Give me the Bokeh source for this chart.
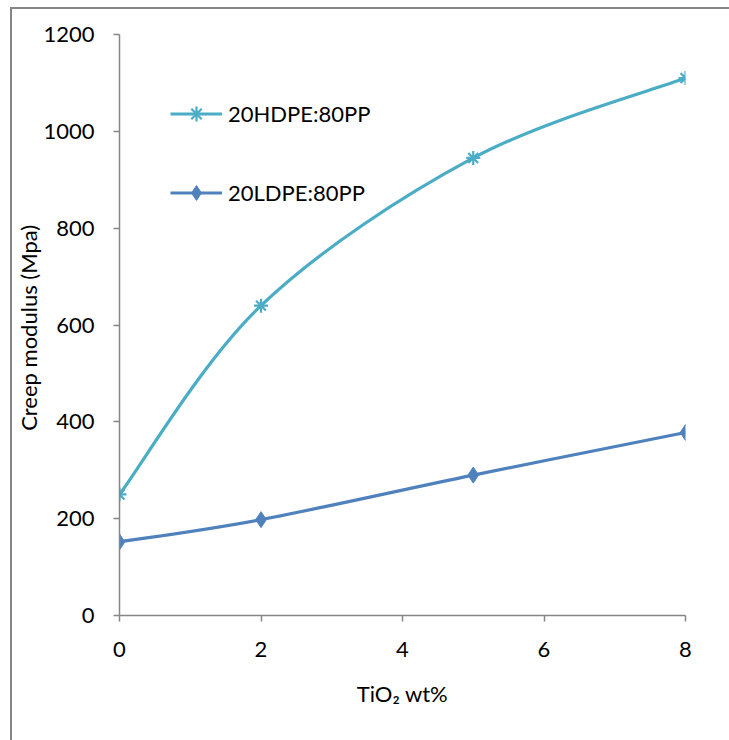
from bokeh.plotting import figure
from bokeh.models import Range1d, Legend, LegendItem, FixedTicker
from bokeh.embed import file_html
from bokeh.resources import INLINE
import numpy as np

# TiO2 loading (wt%) and creep modulus (MPa)
tio2 = [0, 2, 5, 8]
hdpe_pp = [250, 640, 945, 1110]
ldpe_pp = [152, 198, 290, 378]

x_ticks = [0, 2, 4, 6, 8]
y_ticks = [0, 200, 400, 600, 800, 1000, 1200]

HDPE_COLOR = "#4BACC6"
LDPE_COLOR = "#4F81BD"
AXIS_COLOR = "#868686"
FONT = "Lato"


def smooth_segments(xs, ys):
    """Cubic Bezier segments of a Catmull-Rom style smoothed line."""
    xs = np.asarray(xs, float)
    ys = np.asarray(ys, float)
    n = len(xs)
    seg = dict(x0=[], y0=[], x1=[], y1=[], cx0=[], cy0=[], cx1=[], cy1=[])
    for i in range(n - 1):
        pm = max(i - 1, 0)
        pp = min(i + 2, n - 1)
        seg["x0"].append(xs[i]); seg["y0"].append(ys[i])
        seg["x1"].append(xs[i + 1]); seg["y1"].append(ys[i + 1])
        seg["cx0"].append(xs[i] + (xs[i + 1] - xs[pm]) / 6)
        seg["cy0"].append(ys[i] + (ys[i + 1] - ys[pm]) / 6)
        seg["cx1"].append(xs[i + 1] - (xs[pp] - xs[i]) / 6)
        seg["cy1"].append(ys[i + 1] - (ys[pp] - ys[i]) / 6)
    return seg


p = figure(width=719, height=733, output_backend="svg", toolbar_location=None,
           x_range=Range1d(0, 8), y_range=Range1d(0, 1200),
           min_border_left=106, min_border_right=46,
           min_border_top=25, min_border_bottom=127)
# chart-area border (left and top edges are inside the window)
p.margin = (7, 0, 0, 10)
p.styles = {"border-left": "2px solid #868686", "border-top": "2px solid #868686"}
p.outline_line_color = None
p.grid.visible = False
p.background_fill_color = "white"
p.border_fill_color = "white"

for ax in (p.xaxis[0], p.yaxis[0]):
    ax.axis_line_color = AXIS_COLOR
    ax.axis_line_width = 1.5
    ax.major_tick_line_color = AXIS_COLOR
    ax.major_tick_line_width = 1.5
    ax.major_tick_out = 6
    ax.major_tick_in = 0
    ax.minor_tick_line_color = None
    ax.major_label_text_font = FONT
    ax.major_label_text_font_size = "22px"
    ax.major_label_text_color = "black"
    ax.axis_label_text_font = FONT
    ax.axis_label_text_font_size = "22px"
    ax.axis_label_text_font_style = "normal"
    ax.axis_label_text_color = "black"

p.xaxis.ticker = FixedTicker(ticks=x_ticks)
p.yaxis.ticker = FixedTicker(ticks=y_ticks)
p.xaxis.major_label_standoff = 20
p.yaxis.major_label_standoff = 19
p.xaxis.axis_label = "TiO\u2082 wt%"
p.yaxis.axis_label = "Creep modulus  (Mpa)"
p.xaxis.axis_label_standoff = 20
p.yaxis.axis_label_standoff = -2

# smoothed curves
curves = []
for ys, col in ((hdpe_pp, HDPE_COLOR), (ldpe_pp, LDPE_COLOR)):
    curves.append(p.bezier(source=smooth_segments(tio2, ys), x0="x0", y0="y0",
                           x1="x1", y1="y1", cx0="cx0", cy0="cy0",
                           cx1="cx1", cy1="cy1", line_color=col, line_width=3.2))

hm = p.scatter(tio2, hdpe_pp, marker="asterisk", size=14, line_color=HDPE_COLOR,
               line_width=2.2)
lm = p.scatter(tio2, ldpe_pp, marker="diamond", size=16,
               fill_color=LDPE_COLOR, line_color=LDPE_COLOR)

legend = Legend(items=[LegendItem(label="20HDPE:80PP", renderers=[curves[0], hm]),
                       LegendItem(label="20LDPE:80PP", renderers=[curves[1], lm])],
                location=(51, 404), orientation="vertical",
                glyph_width=52, glyph_height=37, label_height=37,
                spacing=42, padding=0, margin=0, label_standoff=6,
                border_line_alpha=0, background_fill_alpha=0,
                label_text_font=FONT, label_text_font_size="22px",
                label_text_color="black")
p.add_layout(legend)

open("out.html", "w").write(file_html(p, INLINE))
